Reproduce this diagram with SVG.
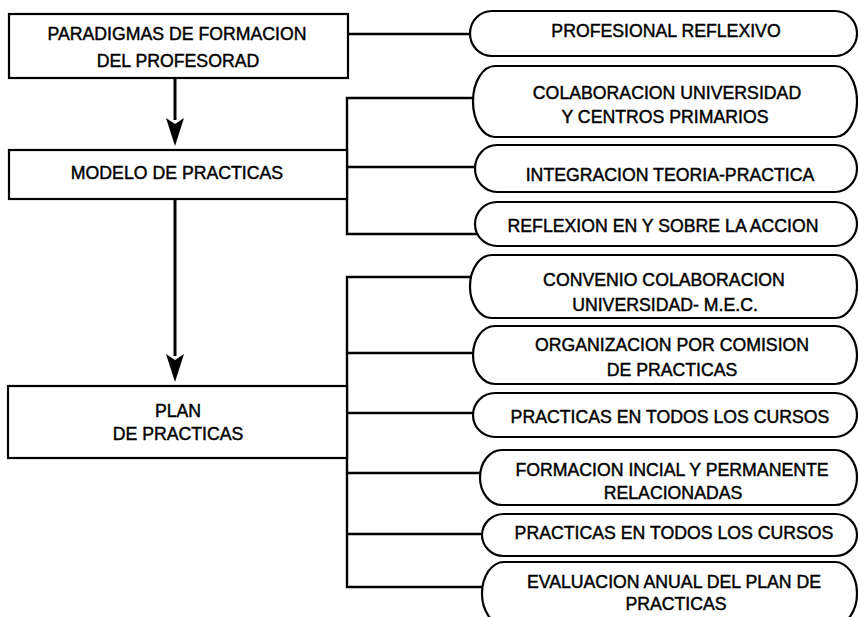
<svg xmlns="http://www.w3.org/2000/svg" width="858" height="617" viewBox="0 0 858 617">
<style>
  .box { fill: #fff; stroke: #000; stroke-width: 2.2; }
  .pill { fill: #fff; stroke: #000; stroke-width: 2.2; }
  .con { fill: none; stroke: #000; stroke-width: 2.4; }
  .arr { fill: none; stroke: #000; stroke-width: 3; }
  text { font-family: "Liberation Sans", Arial, sans-serif; font-size: 17.7px; fill: #000; text-anchor: middle; stroke: #000; stroke-width: 0.45; }
</style>
<rect width="858" height="617" fill="#fff"/>

<g id="connectors">
  <line class="con" x1="348" y1="34" x2="478" y2="34"/>
  <path class="con" d="M480,98 H347 V234 H482"/>
  <line class="con" x1="347" y1="167" x2="482" y2="167"/>
  <path class="con" d="M478,277 H347 V587 H490"/>
  <line class="con" x1="347" y1="353" x2="480" y2="353"/>
  <line class="con" x1="347" y1="413" x2="480" y2="413"/>
  <line class="con" x1="347" y1="473" x2="488" y2="473"/>
  <line class="con" x1="347" y1="534" x2="490" y2="534"/>
  <path d="M175,78 V120" class="arr"/>
  <polygon points="166,118 175,124 184,118 175,146" fill="#000"/>
  <path d="M175,199 V356" class="arr"/>
  <polygon points="166,354 175,360 184,354 175,382" fill="#000"/>
</g>

<g id="n-paradigmas">
  <rect class="box" x="9" y="14" width="339" height="64"/>
  <text x="177" y="40">PARADIGMAS DE FORMACION</text>
  <text x="178" y="67">DEL PROFESORAD</text>
</g>
<g id="n-modelo">
  <rect class="box" x="9" y="150" width="338" height="49"/>
  <text x="177" y="179">MODELO DE PRACTICAS</text>
</g>
<g id="n-plan">
  <rect class="box" x="8" y="386" width="339" height="72"/>
  <text x="178" y="417">PLAN</text>
  <text x="178" y="440">DE PRACTICAS</text>
</g>

<g id="p1">
  <path class="pill" d="M492,11 H835 A22,22.5 0 0 1 835,56 H492 A22,22.5 0 0 1 492,11 Z"/>
  <text x="666" y="37">PROFESIONAL REFLEXIVO</text>
</g>
<g id="p2">
  <path class="pill" d="M495,66 H835 A22,35.5 0 0 1 835,137 H495 A22,35.5 0 0 1 495,66 Z"/>
  <text x="667" y="99">COLABORACION UNIVERSIDAD</text>
  <text x="665" y="123">Y CENTROS PRIMARIOS</text>
</g>
<g id="p3">
  <path class="pill" d="M497,145 H835 A22,23.5 0 0 1 835,192 H497 A22,23.5 0 0 1 497,145 Z"/>
  <text x="670" y="181">INTEGRACION TEORIA-PRACTICA</text>
</g>
<g id="p4">
  <path class="pill" d="M497,202 H835 A22,22 0 0 1 835,246 H497 A22,22 0 0 1 497,202 Z"/>
  <text x="663" y="232">REFLEXION EN Y SOBRE LA ACCION</text>
</g>
<g id="p5">
  <path class="pill" d="M492,255 H835 A22,31.5 0 0 1 835,318 H492 A22,31.5 0 0 1 492,255 Z"/>
  <text x="664" y="286">CONVENIO COLABORACION</text>
  <text x="665" y="311">UNIVERSIDAD- M.E.C.</text>
</g>
<g id="p6">
  <path class="pill" d="M495,326 H835 A22,29 0 0 1 835,384 H495 A22,29 0 0 1 495,326 Z"/>
  <text x="672" y="351">ORGANIZACION POR COMISION</text>
  <text x="672" y="376">DE PRACTICAS</text>
</g>
<g id="p7">
  <path class="pill" d="M495,393 H835 A22,22 0 0 1 835,437 H495 A22,22 0 0 1 495,393 Z"/>
  <text x="670" y="423">PRACTICAS EN TODOS LOS CURSOS</text>
</g>
<g id="p8">
  <path class="pill" d="M502,450 H835 A22,27.5 0 0 1 835,505 H502 A22,27.5 0 0 1 502,450 Z"/>
  <text x="672" y="476">FORMACION INCIAL Y PERMANENTE</text>
  <text x="673" y="499">RELACIONADAS</text>
</g>
<g id="p9">
  <path class="pill" d="M504,514 H835 A22,21 0 0 1 835,556 H504 A22,21 0 0 1 504,514 Z"/>
  <text x="674" y="539">PRACTICAS EN TODOS LOS CURSOS</text>
</g>
<g id="p10">
  <path class="pill" d="M504,562 H835 A22,31.5 0 0 1 835,625 H504 A22,31.5 0 0 1 504,562 Z"/>
  <text x="674" y="588">EVALUACION ANUAL DEL PLAN DE</text>
  <text x="676" y="610">PRACTICAS</text>
</g>
</svg>
